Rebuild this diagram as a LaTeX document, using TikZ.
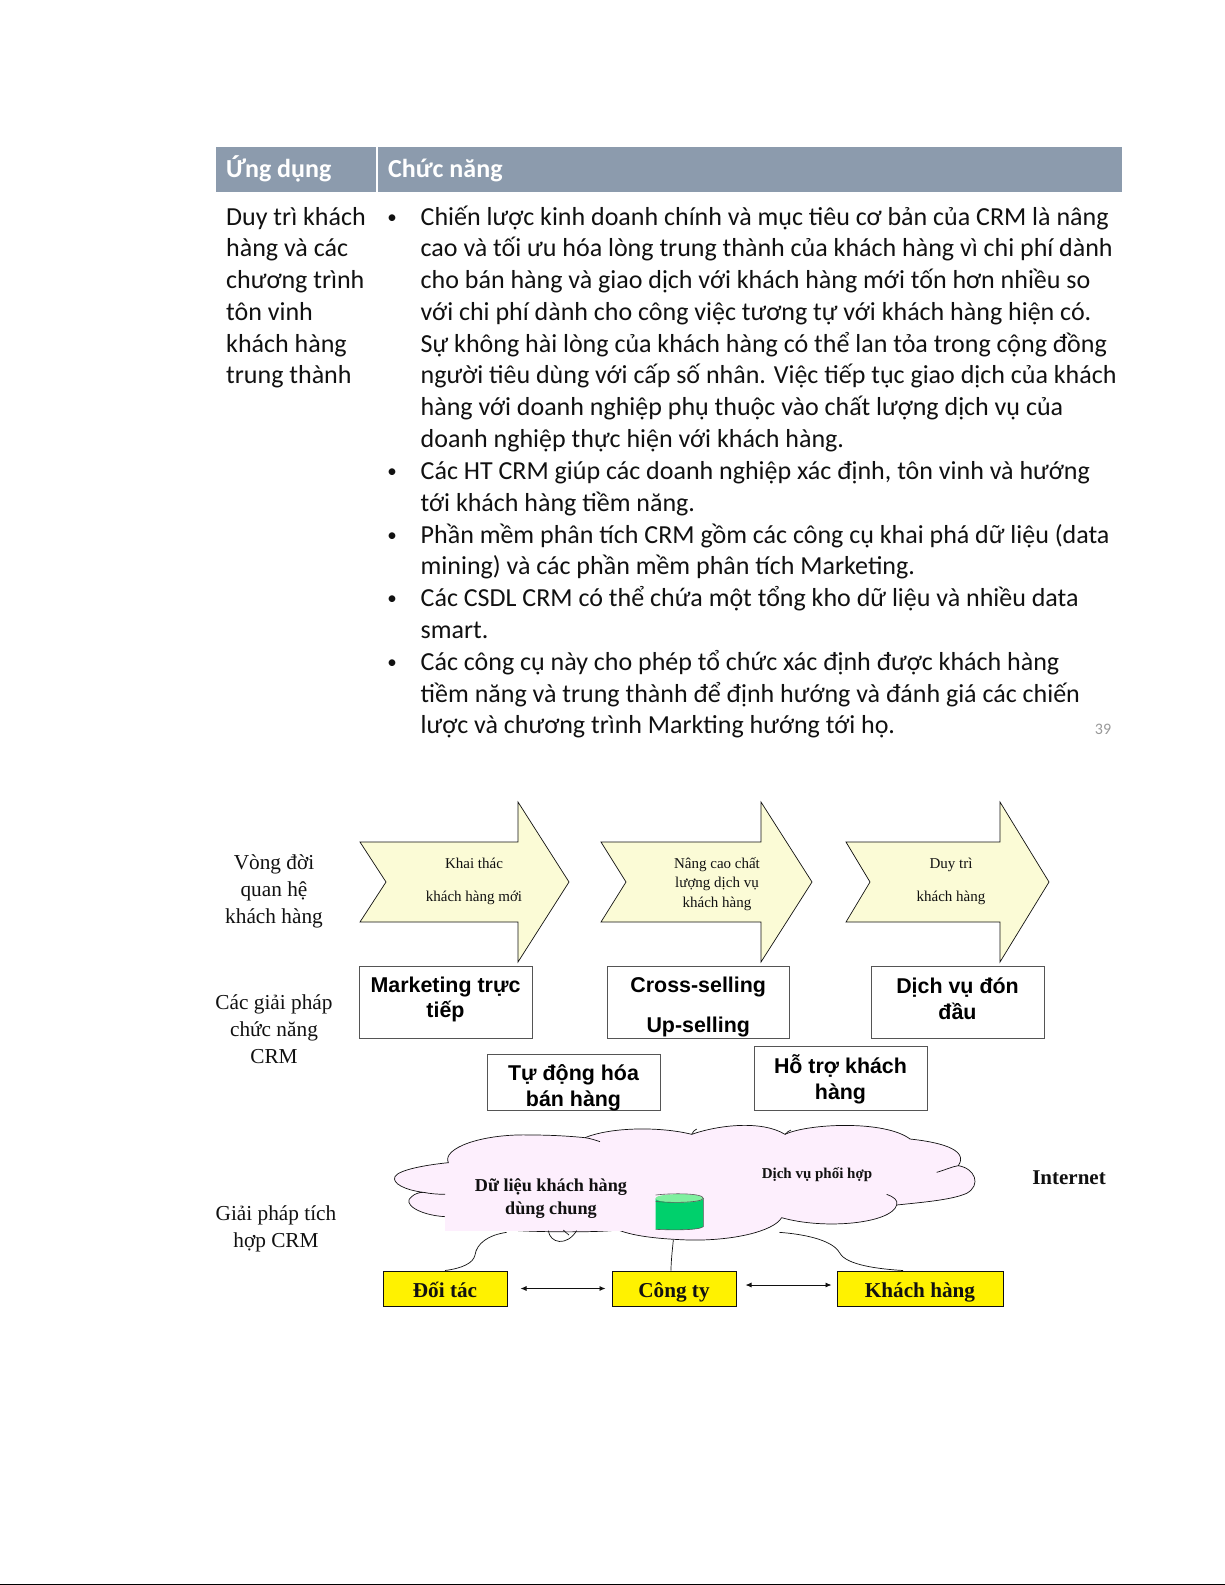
\documentclass[tikz,border=0pt]{standalone}
\usepackage{fontspec}
\setmainfont{Liberation Serif}
\newfontfamily\calib{Carlito}
\newfontfamily\arl{Liberation Sans}
\usetikzlibrary{arrows.meta,calc}
\definecolor{hdr}{HTML}{8C9BAD}
\definecolor{ink}{HTML}{111111}
\definecolor{arrowfill}{HTML}{FBFBD6}
\definecolor{cloudpink}{HTML}{FDEFFD}
\definecolor{boxline}{HTML}{555555}
\definecolor{cyl}{HTML}{00D06C}
\definecolor{cyltop}{HTML}{80F0A0}
\tikzset{
  tbl/.style={anchor=north west,inner sep=0pt,align=left,text=ink,font=\calib\fontsize{26}{31.75}\selectfont},
  bul/.style={inner sep=0pt,text=ink,font=\calib\fontsize{19}{24}\selectfont},
  hd/.style={anchor=base west,inner sep=0pt,text=white,font=\calib\bfseries\fontsize{26}{30}\selectfont},
  chev/.style={draw=ink,line width=.7pt,fill=arrowfill,line join=miter},
  side/.style={inner sep=0pt,align=center,text=ink,font=\fontsize{21.3}{27}\selectfont},
  smalltxt/.style={inner sep=0pt,align=center,text=ink,font=\fontsize{15}{19.5}\selectfont},
  wbox/.style={draw=boxline,line width=1pt,fill=white,inner sep=0pt},
  wtext/.style={inner sep=0pt,align=center,text=black,font=\arl\bfseries\fontsize{21.4}{25.8}\selectfont},
  ybox/.style={draw=ink,line width=1pt,fill=yellow,inner sep=0pt,text=ink,text height=18.5pt,text depth=0pt,font=\bfseries\fontsize{21.2}{24}\selectfont},
  cloudtxt/.style={inner sep=0pt,align=center,text=ink,font=\bfseries\fontsize{18.2}{23}\selectfont},
  conn/.style={draw=ink,line width=.7pt},
  dbl/.style={draw=ink,line width=.8pt,{Latex[length=6pt,width=5pt]}-{Latex[length=6pt,width=5pt]}},
}
\newcommand{\fr}{\rule{0pt}{20pt}}
\begin{document}
\begin{tikzpicture}[x=1pt,y=-1pt]
\useasboundingbox (0,0) rectangle (1225,1585);
\fill[white] (0,0) rectangle (1225,1585);
\fill[black] (0,1583.5) rectangle (1225,1585);
% table header
\fill[hdr] (216,147) rectangle (1122,192);
\draw[white,line width=1.2pt] (377,147) -- (377,192);
\node[hd] (h1) at (226,177) {Ứng dụng};
\node[hd] (h2) at (388,177) {Chức năng};
% table body
\node[tbl] (c1) at (226,205) {\fr Duy trì khách\\hàng và các\\chương trình\\tôn vinh\\khách hàng\\trung thành};
\node[tbl] (p1) at (420.5,205) {\fr Chiến lược kinh doanh chính và mục tiêu cơ bản của CRM là nâng\\
cao và tối ưu hóa lòng trung thành của khách hàng vì chi phí dành\\
cho bán hàng và giao dịch với khách hàng mới tốn hơn nhiều so\\
với chi phí dành cho công việc tương tự với khách hàng hiện có.\\
Sự không hài lòng của khách hàng có thể lan tỏa trong cộng đồng\\
người tiêu dùng với cấp số nhân. Việc tiếp tục giao dịch của khách\\
hàng với doanh nghiệp phụ thuộc vào chất lượng dịch vụ của\\
doanh nghiệp thực hiện với khách hàng.};
\node[tbl] (p2) at (420.5,459.5) {\fr Các HT CRM giúp các doanh nghiệp xác định, tôn vinh và hướng\\tới khách hàng tiềm năng.};
\node[tbl] (p3) at (420.5,523) {\fr Phần mềm phân tích CRM gồm các công cụ khai phá dữ liệu (data\\mining) và các phần mềm phân tích Marketing.};
\node[tbl] (p4) at (420.5,586.5) {\fr Các CSDL CRM có  thể chứa một tổng kho dữ liệu và nhiều data\\smart.};
\node[tbl] (p5) at (420.5,650) {\fr Các công cụ này cho phép tổ chức xác định được khách hàng\\tiềm năng và trung thành để định hướng và đánh giá các chiến\\lược và chương trình Markting hướng tới họ.};
\node[bul,anchor=base] (b1) at (392,223) {•};
\node[bul,anchor=base] (b2) at (392,477.5) {•};
\node[bul,anchor=base] (b3) at (392,541) {•};
\node[bul,anchor=base] (b4) at (392,604.5) {•};
\node[bul,anchor=base] (b5) at (392,668) {•};
\node[inner sep=0pt,text=gray!80,font=\calib\fontsize{16}{18}\selectfont] (pg) at (1103,729) {39};
% arrows
\path[chev] (360,842) -- (518,842) -- (518,802) -- (569,882) -- (518,962) -- (518,922) -- (360,922) -- (386,882) -- cycle;
\path[chev] (601,842) -- (761,842) -- (761,802) -- (812,882) -- (761,962) -- (761,922) -- (601,922) -- (626,882) -- cycle;
\path[chev] (846,842) -- (1000,842) -- (1000,802) -- (1049,882) -- (1000,962) -- (1000,922) -- (846,922) -- (870,882) -- cycle;
\node[smalltxt,font=\fontsize{15}{33}\selectfont] (a1) at (474,881.5) {Khai thác\\khách hàng mới};
\node[smalltxt] (a2) at (717,884) {Nâng cao chất\\lượng dịch vụ\\khách hàng};
\node[smalltxt,font=\fontsize{15}{33}\selectfont] (a3) at (951,881.5) {Duy trì\\khách hàng};
% side labels
\node[side] (s1) at (274,891.5) {Vòng đời\\quan hệ\\khách hàng};
\node[side] (s2) at (274,1029) {Các giải pháp\\chức năng\\CRM};
\node[side] (s3) at (276,1228.5) {Giải pháp tích\\hợp CRM};
% white boxes
\node[wbox,minimum width=173pt,minimum height=72pt] (mk) at (445.5,1002) {};
\node[wbox,minimum width=181.5pt,minimum height=72pt] (cs) at (698.25,1002) {};
\node[wbox,minimum width=173pt,minimum height=72pt] (dv) at (957.5,1002) {};
\node[wbox,minimum width=173pt,minimum height=56pt] (td) at (573.5,1082) {};
\node[wbox,minimum width=173pt,minimum height=64pt] (ht) at (840.5,1078) {};
\node[wtext] (mkt) at (445.5,999.5) {Marketing trực\\tiếp};
\node[wtext,font=\arl\bfseries\fontsize{21.4}{40}\selectfont] (cst) at (698.25,1007) {Cross-selling\\Up-selling};
\node[wtext] (dvt) at (957.5,998.5) {Dịch vụ đón\\đầu};
\node[wtext] (tdt) at (573.5,1088) {Tự động hóa\\bán hàng};
\node[wtext] (htt) at (840.5,1079.5) {Hỗ trợ khách\\hàng};
% yellow boxes
\node[ybox,minimum width=124pt,minimum height=35pt] (dt) at (445,1288.5) {Đối tác};
\node[ybox,minimum width=124pt,minimum height=35pt] (ct) at (674,1288.5) {Công ty};
\node[ybox,minimum width=166pt,minimum height=35pt] (kh) at (920,1288.5) {Khách hàng};
\draw[dbl,shorten <=13pt,shorten >=6pt] (dt) -- (ct);
\draw[dbl,shorten <=9pt,shorten >=5pt] ([yshift=3.5pt]ct.east) -- ([yshift=3.5pt]kh.west);
\coordinate (ctin) at ([xshift=-3pt]ct.north);
\coordinate (khin) at ([xshift=-17pt]kh.north);
% cloud, in crop coordinates
\begin{scope}[shift={(385,1115)},x=.33333pt,y=-.33333pt]
\coordinate (cl1) at (365,352);
\coordinate (cl2) at (865,375);
\coordinate (cl3) at (1183,352);
\path[conn,fill=cloudpink]
  (190,143) .. controls (170,100) and (290,55) .. (440,60)
  .. controls (510,60) and (570,65) .. (600,68)
  .. controls (680,35) and (830,35) .. (920,58)
  .. controls (1000,30) and (1130,15) .. (1200,58)
  .. controls (1270,25) and (1500,15) .. (1575,72)
  .. controls (1650,80) and (1755,100) .. (1720,152)
  .. controls (1770,160) and (1790,210) .. (1745,235)
  .. controls (1700,255) and (1610,262) .. (1535,270)
  .. controls (1520,325) and (1320,345) .. (1190,308)
  .. controls (1165,350) and (1040,378) .. (910,375)
  .. controls (830,372) and (750,365) .. (700,345)
  .. controls (640,352) and (500,352) .. (400,347)
  -- (180,305)
  .. controls (100,300) and (50,265) .. (80,245)
  .. controls (90,235) and (105,232) .. (115,232)
  .. controls (60,225) and (20,205) .. (30,185)
  .. controls (40,165) and (120,150) .. (190,143) -- cycle;
\fill[cloudpink] (180,150) rectangle (812,347);
\draw[conn] (600,68) .. controls (615,70) and (630,75) .. (645,80);
\draw[conn] (920,58) .. controls (923,50) and (928,46) .. (935,42);
\draw[conn] (1200,58) .. controls (1207,50) and (1212,48) .. (1218,45);
\draw[conn] (1720,152) .. controls (1700,155) and (1680,165) .. (1655,172);
\draw[conn] (1535,270) .. controls (1540,255) and (1525,245) .. (1505,238);
\draw[conn] (115,232) .. controls (135,236) and (160,238) .. (180,238);
\draw[conn] (490,347) .. controls (495,385) and (545,395) .. (575,347);
\draw[conn] (535,345) .. controls (540,350) and (545,355) .. (552,360);
% cylinder
\fill[cyl] (812,250) -- (955,250) -- (955,335) .. controls (940,347) and (850,345) .. (812,343) -- cycle;
\fill[cyltop] (812,250) .. controls (812,233) and (955,233) .. (955,250) .. controls (955,267) and (812,267) .. (812,250);
\draw[draw=ink!70,line width=.6pt] (812,240) .. controls (860,234) and (955,234) .. (955,250) -- (955,335) .. controls (940,347) and (850,345) .. (812,343);
\draw[draw=ink!70,line width=.6pt] (955,250) .. controls (950,264) and (850,264) .. (812,259);
% connectors
\draw[conn] (cl1) .. controls (310,360) and (275,385) .. (270,420) .. controls (265,445) and (230,460) .. (dt.north);
\draw[conn] (cl2) .. controls (862,405) and (858,440) .. (ctin);
\draw[conn] (cl3) .. controls (1290,360) and (1350,385) .. (1365,415) .. controls (1385,450) and (1480,462) .. (khin);
\end{scope}
% cloud texts
\node[cloudtxt] (c1t) at (551,1199) {Dữ liệu khách hàng\\dùng chung};
\node[cloudtxt,font=\bfseries\fontsize{15}{18}\selectfont] (c2t) at (817,1175) {Dịch vụ phối hợp};
\node[inner sep=0pt,text=ink,font=\bfseries\fontsize{21}{22}\selectfont] (inet) at (1069,1178) {Internet};
\end{tikzpicture}
\end{document}
